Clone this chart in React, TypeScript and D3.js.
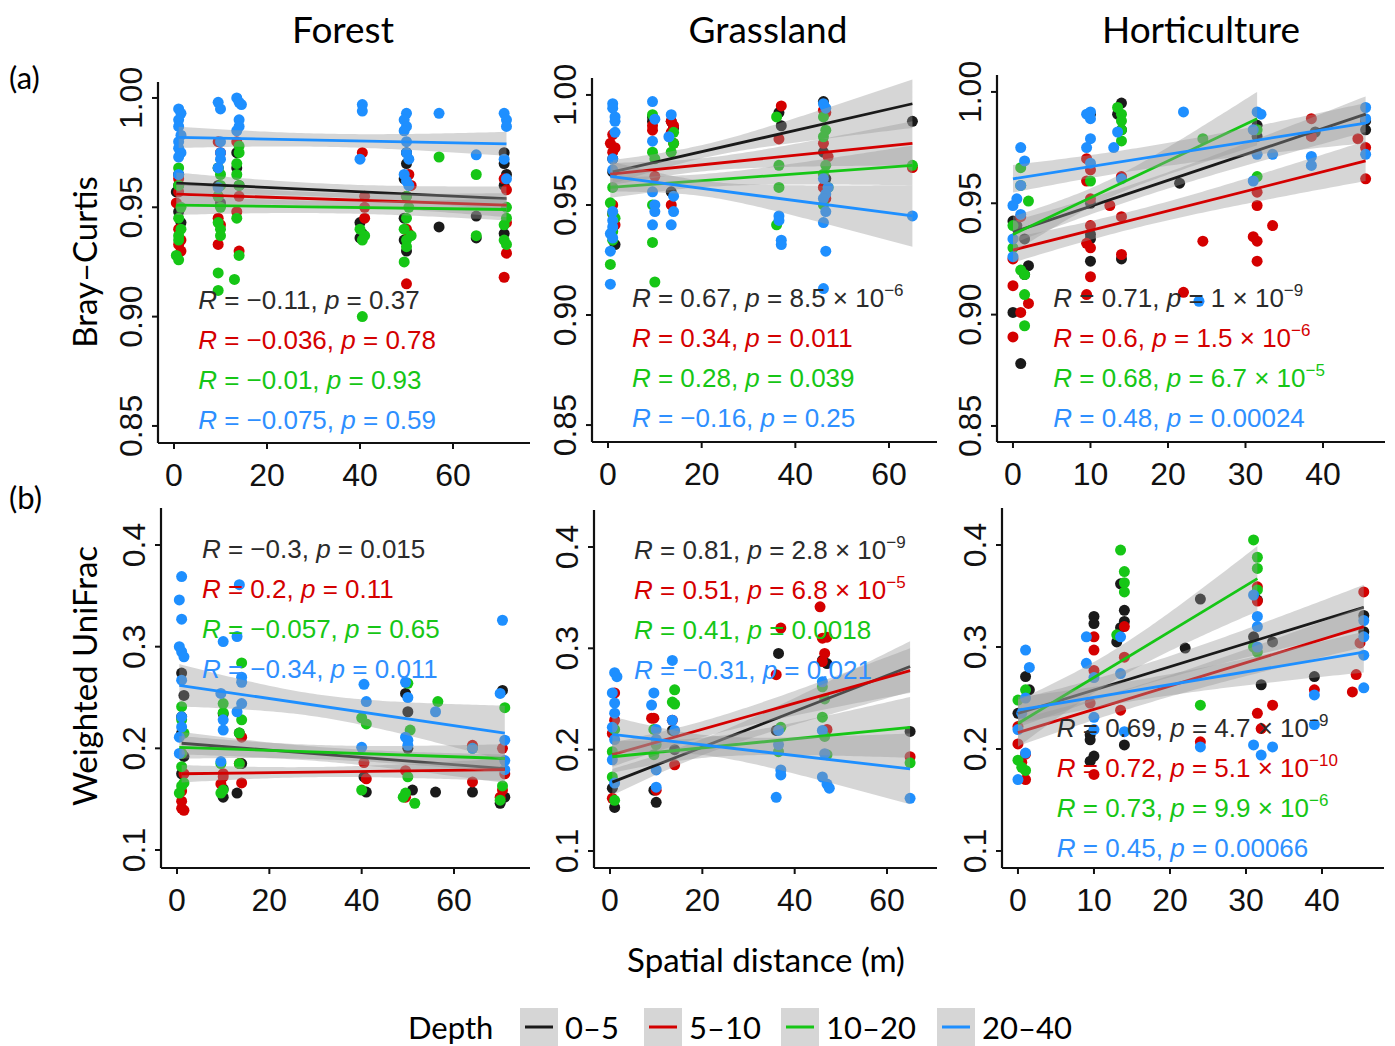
import * as d3 from "d3";

// ---- data ----
const depths = ["0–5", "5–10", "10–20", "20–40"];
const depthColors = ["#1a1a1a", "#d40000", "#16c616", "#1e8fff"];
const textColors = ["#2b2b2b", "#d40000", "#16c616", "#2e8fff"];
const habitats = ["Forest", "Grassland", "Horticulture"];
const metrics = ["Bray–Curtis", "Weighted UniFrac"];

const xTicksForest = [0, 20, 40, 60];
const xTicksHort = [0, 10, 20, 30, 40];
const yTicksBray = [0.85, 0.9, 0.95, 1.0];
const yTicksUni = [0.1, 0.2, 0.3, 0.4];

// Bray-Curtis, forest
const faBlack = [[1,0.965],[1,0.96],[0.5,0.957],[1,0.948],[1.5,0.943],[9.5,0.968],[9.5,0.96],[10,0.952],[13.5,0.975],[13.5,0.968],[14,0.96],[40,0.943],[40.5,0.938],[40,0.936],[50,0.975],[50,0.97],[49.5,0.963],[49.5,0.945],[49.5,0.935],[50,0.93],[57,0.941],[65,0.946],[65,0.936],[71,0.975],[71,0.97],[71.5,0.965],[71,0.96],[71,0.938]];
const faRed = [[1,0.963],[1,0.957],[0.5,0.952],[1,0.94],[1.5,0.935],[1,0.933],[1.5,0.93],[9.5,0.98],[10,0.975],[9.5,0.955],[9.5,0.945],[10,0.942],[9.5,0.933],[13.5,0.98],[14,0.955],[13.5,0.948],[14,0.93],[40.5,0.975],[41,0.955],[41,0.95],[41,0.945],[50.5,0.965],[51,0.96],[50,0.955],[50,0.94],[50.5,0.938],[50,0.915],[71,0.963],[71.5,0.958],[71.5,0.943],[71.5,0.929],[71,0.918]];
const faGreen = [[1,0.968],[1,0.96],[1.5,0.95],[1,0.945],[1.5,0.94],[1,0.937],[1,0.935],[0.5,0.928],[1,0.926],[9.5,0.968],[10,0.965],[10,0.96],[9.5,0.955],[10,0.95],[9.5,0.943],[10,0.94],[10,0.937],[9.5,0.92],[9.5,0.912],[14,0.978],[14,0.975],[13.5,0.97],[13.5,0.965],[14,0.96],[13.5,0.945],[14,0.928],[13,0.917],[40,0.94],[41,0.937],[40.5,0.935],[40.5,0.9],[50,0.955],[50.5,0.95],[50,0.945],[49.5,0.94],[50,0.935],[50,0.932],[49.5,0.925],[51,0.937],[57,0.973],[65,0.965],[65,0.937],[71.5,0.95],[71.5,0.945],[71,0.942],[71,0.935],[71.5,0.933]];
const faBlue = [[1,0.995],[1.5,0.993],[1,0.99],[1,0.987],[1.5,0.983],[1,0.98],[1,0.977],[1.5,0.975],[1,0.973],[1,0.965],[9.5,0.998],[10,0.995],[10,0.98],[10,0.975],[10,0.972],[9.5,0.968],[9.5,0.959],[13.5,1.0],[14,0.998],[14.5,0.997],[14,0.99],[14,0.987],[13.5,0.985],[40.5,0.997],[40.5,0.994],[40,0.972],[50,0.993],[49.5,0.99],[50,0.987],[49.5,0.985],[50,0.98],[50,0.975],[50.5,0.972],[49.5,0.965],[50,0.962],[50.5,0.96],[57,0.993],[65,0.974],[71,0.993],[71.5,0.99],[71.5,0.987],[71,0.972],[71.5,0.963]];

// Bray-Curtis, grassland
const gaBlack = [[1,0.971],[1,0.965],[1.5,0.932],[9.5,0.99],[9.5,0.988],[13.5,0.988],[14,0.985],[13.5,0.956],[36.5,0.992],[37,0.986],[46,0.997],[46,0.974],[46.5,0.962],[65,0.988]];
const gaRed = [[1,0.982],[0.5,0.978],[1.5,0.976],[1,0.974],[1,0.95],[1,0.946],[1.5,0.941],[9.5,0.986],[9.5,0.984],[10,0.963],[13.5,0.988],[14,0.986],[13.5,0.983],[14,0.978],[13.5,0.95],[37,0.995],[36.5,0.98],[46,0.993],[46.5,0.992],[46,0.978],[47,0.972],[46,0.958],[46.5,0.953],[65,0.967]];
const gaGreen = [[1,0.958],[0.5,0.951],[1,0.946],[1.5,0.944],[1,0.938],[1,0.934],[0.5,0.923],[9.5,0.991],[9.5,0.974],[10,0.971],[9.5,0.95],[9.5,0.933],[10,0.915],[14,0.983],[14,0.978],[13.5,0.974],[36,0.99],[36.5,0.968],[36.5,0.958],[36,0.941],[46,0.99],[46.5,0.984],[46,0.981],[46.5,0.968],[46,0.964],[47,0.958],[46,0.95],[65,0.968]];
const gaBlue = [[1,0.996],[1,0.994],[1.5,0.99],[1.5,0.988],[1.5,0.983],[1,0.971],[1,0.966],[1,0.947],[1,0.943],[1,0.94],[0.5,0.937],[1,0.935],[0.5,0.929],[0.5,0.914],[9.5,0.997],[10,0.989],[9.5,0.979],[9.5,0.956],[10,0.95],[10,0.947],[9.5,0.941],[13.5,0.991],[13,0.981],[14,0.954],[14,0.947],[13.5,0.941],[36.5,0.945],[36.5,0.943],[37,0.934],[37,0.932],[46,0.996],[46.5,0.994],[46,0.962],[47,0.958],[46.5,0.955],[46,0.953],[46.5,0.947],[46,0.942],[46.5,0.929],[46,0.912],[65,0.945]];

// Bray-Curtis, horticulture
const haBlack = [[0,0.942],[0.5,0.94],[1.5,0.934],[2,0.922],[1.5,0.918],[0,0.901],[1,0.878],[10,0.99],[10,0.95],[10,0.936],[10,0.934],[10,0.924],[14,0.995],[13.5,0.99],[14,0.983],[14,0.925],[21.5,0.959],[31.5,0.985],[31.5,0.98],[39,0.982],[45.5,0.983],[45.5,0.987]];
const haRed = [[1,0.944],[0,0.925],[0,0.913],[2,0.905],[1,0.901],[0,0.89],[9.5,0.97],[10,0.965],[9.5,0.96],[10,0.952],[10,0.94],[9.5,0.932],[10,0.93],[10,0.917],[9.5,0.909],[14,0.962],[12.5,0.949],[14,0.944],[14,0.927],[22,0.91],[24.5,0.933],[31.5,0.949],[31,0.935],[31.5,0.933],[31.5,0.924],[31.5,0.955],[33.5,0.94],[38.5,0.988],[38.5,0.98],[44.5,0.979],[45.5,0.975],[45.5,0.961]];
const haGreen = [[1,0.966],[1,0.958],[2,0.951],[0,0.94],[0,0.93],[1,0.92],[1.5,0.918],[1.5,0.909],[1.5,0.895],[10,0.96],[13.5,0.993],[14,0.99],[14,0.987],[14,0.983],[14,0.978],[24.5,0.979],[31.5,0.983],[31.5,0.962]];
const haBlue = [[1,0.975],[1.5,0.969],[1,0.958],[0.5,0.952],[0,0.949],[1,0.945],[0,0.934],[0,0.926],[10,0.991],[9.5,0.99],[10,0.988],[10,0.979],[9.5,0.975],[10,0.968],[13.5,0.982],[13,0.975],[14,0.961],[22,0.991],[24,0.906],[31.5,0.991],[32,0.99],[31,0.983],[31.5,0.972],[31,0.96],[33.5,0.972],[38.5,0.971],[38.5,0.967],[45.5,0.993],[45.5,0.988],[45.5,0.972]];

// Weighted UniFrac, forest
const fbBlack = [[1,0.274],[1.5,0.252],[1,0.231],[1,0.215],[1.5,0.192],[1,0.175],[10,0.234],[10,0.16],[10,0.152],[13.5,0.215],[14,0.185],[13,0.156],[40.5,0.172],[41,0.157],[49.5,0.254],[50,0.236],[50,0.2],[51,0.159],[56,0.157],[64,0.157],[70.5,0.257],[70,0.146],[71,0.152]];
const fbRed = [[1,0.195],[1.5,0.175],[1,0.158],[1,0.148],[1,0.141],[1.5,0.139],[10,0.175],[10,0.172],[9.5,0.165],[14,0.211],[13.5,0.185],[14,0.166],[40.5,0.186],[41,0.17],[49.5,0.178],[49.5,0.152],[64,0.203],[64,0.167],[70.5,0.2],[71,0.175],[70.5,0.159],[70,0.152]];
const fbGreen = [[1,0.241],[1,0.228],[1.5,0.215],[1,0.195],[1,0.182],[1.5,0.166],[1,0.163],[0.5,0.156],[10,0.244],[10,0.235],[9.5,0.185],[10,0.159],[9.5,0.156],[14,0.284],[13.5,0.215],[14,0.228],[13.5,0.185],[40,0.23],[41,0.224],[40,0.159],[50,0.264],[50.5,0.218],[50,0.172],[49.5,0.156],[49,0.152],[51.5,0.146],[56.5,0.246],[64,0.2],[71,0.24],[70.5,0.163],[70,0.149]];
const fbBlue = [[1,0.369],[0.5,0.346],[1,0.327],[0.5,0.3],[1,0.295],[1.5,0.29],[1,0.267],[1,0.231],[1,0.221],[0.5,0.211],[0.5,0.195],[10,0.305],[9.5,0.254],[10,0.228],[10,0.218],[9.5,0.187],[13.5,0.361],[13,0.31],[14,0.27],[14,0.265],[13,0.236],[14,0.244],[40.5,0.263],[41,0.246],[40,0.201],[49.5,0.265],[50,0.25],[49.5,0.211],[50,0.208],[50,0.203],[56,0.236],[64,0.2],[70.5,0.326],[70,0.254],[71,0.208],[71,0.188],[71,0.179]];

// Weighted UniFrac, grassland
const gbBlack = [[0.5,0.162],[1,0.143],[9.5,0.16],[10,0.148],[13.5,0.219],[14,0.2],[36.5,0.295],[36,0.219],[46,0.288],[47,0.285],[65,0.218]];
const gbRed = [[1,0.256],[1,0.229],[0.5,0.216],[0.5,0.152],[9.5,0.231],[9,0.231],[10,0.16],[13.5,0.229],[14,0.185],[37,0.32],[36,0.274],[45.5,0.341],[46,0.31],[46.5,0.295],[47,0.311],[46,0.287],[47,0.22],[65,0.193]];
const gbGreen = [[1,0.22],[0.5,0.198],[0.5,0.173],[1,0.15],[9.5,0.22],[10,0.205],[9.5,0.195],[14,0.259],[13.5,0.247],[14,0.245],[37,0.222],[36.5,0.198],[46,0.262],[46.5,0.25],[46,0.232],[46.5,0.213],[47,0.195],[65,0.187]];
const gbBlue = [[1,0.276],[1.5,0.272],[0.5,0.256],[1,0.246],[1,0.236],[0.5,0.222],[1,0.21],[0.5,0.19],[1,0.167],[9.5,0.256],[9,0.244],[10,0.22],[10,0.21],[10,0.18],[10,0.163],[13.5,0.288],[13.5,0.229],[14,0.219],[36.5,0.219],[36.5,0.205],[37,0.18],[37,0.175],[36,0.153],[46,0.267],[46,0.219],[46.5,0.196],[46,0.173],[47,0.166],[47.5,0.162],[65,0.152]];

// Weighted UniFrac, horticulture
const hbBlack = [[1,0.271],[1.5,0.258],[0,0.235],[10,0.33],[10,0.323],[9.5,0.214],[9.5,0.209],[10,0.193],[9.5,0.188],[13.5,0.362],[14,0.336],[14,0.325],[13.5,0.319],[13,0.305],[14,0.204],[22,0.299],[24,0.347],[31.5,0.346],[31,0.31],[32,0.263],[33.5,0.305],[39,0.271],[45.5,0.331],[45.5,0.315]];
const hbRed = [[0,0.222],[0,0.205],[1,0.195],[0.5,0.187],[1,0.17],[10,0.31],[10,0.297],[10,0.277],[9.5,0.245],[10,0.175],[14,0.32],[14,0.29],[13.5,0.238],[24,0.207],[31.5,0.359],[31.5,0.345],[31.5,0.235],[32,0.22],[33.5,0.243],[39,0.258],[45.5,0.354],[45,0.304],[44.5,0.273],[44,0.256]];
const hbGreen = [[0,0.248],[1,0.258],[0,0.189],[1,0.179],[0.5,0.182],[13.5,0.395],[14,0.374],[14,0.363],[14,0.354],[13,0.312],[24,0.243],[31,0.405],[31.5,0.388],[31.5,0.377],[31.5,0.356],[31,0.3],[31.5,0.295]];
const hbBlue = [[1,0.297],[1.5,0.28],[1,0.25],[0.5,0.235],[0,0.219],[1,0.196],[0,0.17],[9,0.31],[9,0.284],[10,0.27],[10,0.231],[10,0.219],[13.5,0.31],[13.5,0.274],[14,0.217],[24,0.202],[31,0.351],[31.5,0.33],[31.5,0.32],[31.5,0.3],[31,0.204],[32,0.194],[33.5,0.202],[39,0.253],[39,0.224],[45.5,0.326],[45.5,0.31],[45.5,0.292],[45.5,0.26]];

// fitted line at both ends of each depth's x range, plus CI: [yStart, yEnd, xMean, halfMin, halfEnd]
const faFits = [[0.961,0.954,33,0.003,0.0055],[0.956,0.951,33,0.003,0.0055],[0.951,0.949,33,0.0028,0.005],[0.982,0.979,33,0.003,0.0055]];
const gaFits = [[0.965,0.996,20,0.003,0.011],[0.964,0.978,20,0.003,0.010],[0.958,0.968,20,0.003,0.009],[0.963,0.945,20,0.0035,0.014]];
const haFits = [[0.937,0.99,15,0.0035,0.008],[0.929,0.969,15,0.004,0.009],[0.936,0.988,12,0.004,0.012],[0.961,0.986,15,0.005,0.009]];
const fbFits = [[0.205,0.180,30,0.007,0.014],[0.175,0.179,30,0.005,0.011],[0.201,0.190,30,0.007,0.014],[0.262,0.215,30,0.011,0.027]];
const gbFits = [[0.168,0.282,20,0.008,0.025],[0.195,0.278,20,0.008,0.022],[0.193,0.222,20,0.01,0.03],[0.215,0.181,20,0.01,0.035]];
const hbFits = [[0.235,0.339,15,0.01,0.022],[0.216,0.320,15,0.01,0.02],[0.225,0.367,12,0.015,0.032],[0.238,0.295,15,0.01,0.02]];

// correlation labels: [R, p mantissa, p exponent]
const faStats = [["−0.11","0.37",""],["−0.036","0.78",""],["−0.01","0.93",""],["−0.075","0.59",""]];
const gaStats = [["0.67","8.5","−6"],["0.34","0.011",""],["0.28","0.039",""],["−0.16","0.25",""]];
const haStats = [["0.71","1","−9"],["0.6","1.5","−6"],["0.68","6.7","−5"],["0.48","0.00024",""]];
const fbStats = [["−0.3","0.015",""],["0.2","0.11",""],["−0.057","0.65",""],["−0.34","0.011",""]];
const gbStats = [["0.81","2.8","−9"],["0.51","6.8","−5"],["0.41","0.0018",""],["−0.31","0.021",""]];
const hbStats = [["0.69","4.7","−9"],["0.72","5.1","−10"],["0.73","9.9","−6"],["0.45","0.00066",""]];

// label anchor (data units) for first line of stats
const faLabel = [5.2, 0.9076];
const gaLabel = [5.1, 0.9077];
const haLabel = [5.2, 0.9075];
const fbLabel = [5.4, 0.396];
const gbLabel = [5.2, 0.397];
const hbLabel = [5.1, 0.2206];

// ---- layout ----
const W = 1395;
const H = 1046;
const ARIAL = "'Liberation Sans', Arial, sans-serif";
const CALIBRI = "Lato, 'Open Sans', sans-serif";

const panels = [
  { box: [158, 82, 530, 443], xd: [-3.44, 76.56], yd: [0.8422, 1.0073], xt: xTicksForest, yt: yTicksBray, yf: ".2f",
    series: [faBlack, faRed, faGreen, faBlue], fits: faFits, stats: faStats, label: faLabel },
  { box: [592, 78, 937, 442], xd: [-3.42, 70.25], yd: [0.8423, 1.0077], xt: xTicksForest, yt: yTicksBray, yf: ".2f",
    series: [gaBlack, gaRed, gaGreen, gaBlue], fits: gaFits, stats: gaStats, label: gaLabel },
  { box: [997, 75, 1385, 442], xd: [-2.06, 48.0], yd: [0.8428, 1.0076], xt: xTicksHort, yt: yTicksBray, yf: ".2f",
    series: [haBlack, haRed, haGreen, haBlue], fits: haFits, stats: haStats, label: haLabel },
  { box: [161, 508, 530, 868], xd: [-3.47, 76.46], yd: [0.0823, 0.4364], xt: xTicksForest, yt: yTicksUni, yf: ".1f",
    series: [fbBlack, fbRed, fbGreen, fbBlue], fits: fbFits, stats: fbStats, label: fbLabel },
  { box: [594, 510, 937, 868], xd: [-3.47, 70.83], yd: [0.0832, 0.4365], xt: xTicksForest, yt: yTicksUni, yf: ".1f",
    series: [gbBlack, gbRed, gbGreen, gbBlue], fits: gbFits, stats: gbStats, label: gbLabel },
  { box: [1002, 508, 1384, 868], xd: [-2.1, 48.16], yd: [0.0833, 0.4363], xt: xTicksHort, yt: yTicksUni, yf: ".1f",
    series: [hbBlack, hbRed, hbGreen, hbBlue], fits: hbFits, stats: hbStats, label: hbLabel },
];

const titleX = [343, 768, 1201];
const legendKeyX = [520, 644, 781, 937];

function Panel({ p }: { p: any }) {
  const [left, top, right, bottom] = p.box;
  const x = d3.scaleLinear().domain(p.xd).range([left, right]);
  const y = d3.scaleLinear().domain(p.yd).range([bottom, top]);
  const fmt = d3.format(p.yf);

  const smooth = p.series.map((pts: number[][], i: number) => {
    const [x0, x1] = d3.extent(pts, (d) => d[0]) as [number, number];
    const [ys, ye, xc, hMin, hEnd] = p.fits[i];
    const far = Math.max(Math.abs(x0 - xc), Math.abs(x1 - xc));
    const k = (hEnd * hEnd - hMin * hMin) / (far * far);
    const fy = (v: number) => ys + ((ye - ys) * (v - x0)) / (x1 - x0);
    const hw = (v: number) => Math.sqrt(hMin * hMin + k * (v - xc) * (v - xc));
    const xs = d3.range(0, 81).map((j) => x0 + ((x1 - x0) * j) / 80);
    const band = d3.area<number>().x((v) => x(v)).y0((v) => y(fy(v) - hw(v))).y1((v) => y(fy(v) + hw(v)))(xs);
    const line = d3.line<number>().x((v) => x(v)).y((v) => y(fy(v)))([x0, x1]);
    return { band, line };
  });

  const [lx, ly] = p.label;
  return (
    <g>
      {/* points */}
      {p.series.map((pts: number[][], i: number) => (
        <g key={i} fill={depthColors[i]}>
          {pts.map((d, j) => (
            <circle key={j} cx={x(d[0])} cy={y(d[1])} r={5.5} />
          ))}
        </g>
      ))}
      {/* smooth: ribbon + line per depth */}
      {smooth.map((s: any, i: number) => (
        <g key={i}>
          <path d={s.band} fill="#999999" fillOpacity={0.4} />
          <path d={s.line} stroke={depthColors[i]} strokeWidth={2.8} fill="none" />
        </g>
      ))}
      {/* stats */}
      {p.stats.map((st: string[], i: number) => (
        <text key={i} x={x(lx)} y={y(ly) + i * 40 + 9} fill={textColors[i]} fontFamily={ARIAL} fontSize={26}>
          <tspan fontStyle="italic">R</tspan>
          <tspan>{` = ${st[0]}, `}</tspan>
          <tspan fontStyle="italic">p</tspan>
          <tspan>{` = ${st[1]}`}</tspan>
          {st[2] && <tspan>{" × 10"}</tspan>}
          {st[2] && <tspan dy={-11} fontSize={17}>{st[2]}</tspan>}
        </text>
      ))}
      {/* axes */}
      <line x1={left} x2={left} y1={top} y2={bottom} stroke="#111" strokeWidth={2.2} />
      <line x1={left} x2={right} y1={bottom} y2={bottom} stroke="#111" strokeWidth={2.2} />
      {p.yt.map((t: number) => (
        <g key={t}>
          <line x1={left - 6} x2={left} y1={y(t)} y2={y(t)} stroke="#111" strokeWidth={2} />
          <text transform={`translate(${left - 16},${y(t)}) rotate(-90)`} textAnchor="middle"
            fontFamily={ARIAL} fontSize={32} fill="#111">{fmt(t)}</text>
        </g>
      ))}
      {p.xt.map((t: number) => (
        <g key={t}>
          <line x1={x(t)} x2={x(t)} y1={bottom} y2={bottom + 6} stroke="#111" strokeWidth={2} />
          <text x={x(t)} y={bottom + 43} textAnchor="middle" fontFamily={ARIAL} fontSize={32} fill="#111">{t}</text>
        </g>
      ))}
    </g>
  );
}

export default function App() {
  return (
    <svg width={W} height={H} style={{ position: "absolute", left: 0, top: 0, background: "#fff" }}>
      <rect width={W} height={H} fill="#fff" />
      {habitats.map((h, i) => (
        <text key={h} x={titleX[i]} y={43} textAnchor="middle" fontFamily={CALIBRI} fontSize={37} fill="#000">{h}</text>
      ))}
      <text x={9} y={89} fontFamily={CALIBRI} fontSize={31} fill="#000">(a)</text>
      <text x={9} y={509} fontFamily={CALIBRI} fontSize={31} fill="#000">(b)</text>
      <text transform="translate(97,262) rotate(-90)" textAnchor="middle" fontFamily={CALIBRI} fontSize={33} fill="#000">{metrics[0]}</text>
      <text transform="translate(97,676) rotate(-90)" textAnchor="middle" fontFamily={CALIBRI} fontSize={33} fill="#000">{metrics[1]}</text>
      {panels.map((p, i) => (
        <Panel key={i} p={p} />
      ))}
      <text x={766} y={972} textAnchor="middle" fontFamily={CALIBRI} fontSize={33} fill="#000">Spatial distance (m)</text>
      {/* legend */}
      <text x={408} y={1039} fontFamily={CALIBRI} fontSize={31} fill="#000">Depth</text>
      {depths.map((d, i) => (
        <g key={d}>
          <rect x={legendKeyX[i]} y={1008} width={38} height={40} fill="#999999" fillOpacity={0.4} />
          <line x1={legendKeyX[i] + 5} x2={legendKeyX[i] + 33} y1={1027} y2={1027} stroke={depthColors[i]} strokeWidth={3} />
          <text x={legendKeyX[i] + 45} y={1039} fontFamily={CALIBRI} fontSize={31} fill="#000">{d}</text>
        </g>
      ))}
    </svg>
  );
}
